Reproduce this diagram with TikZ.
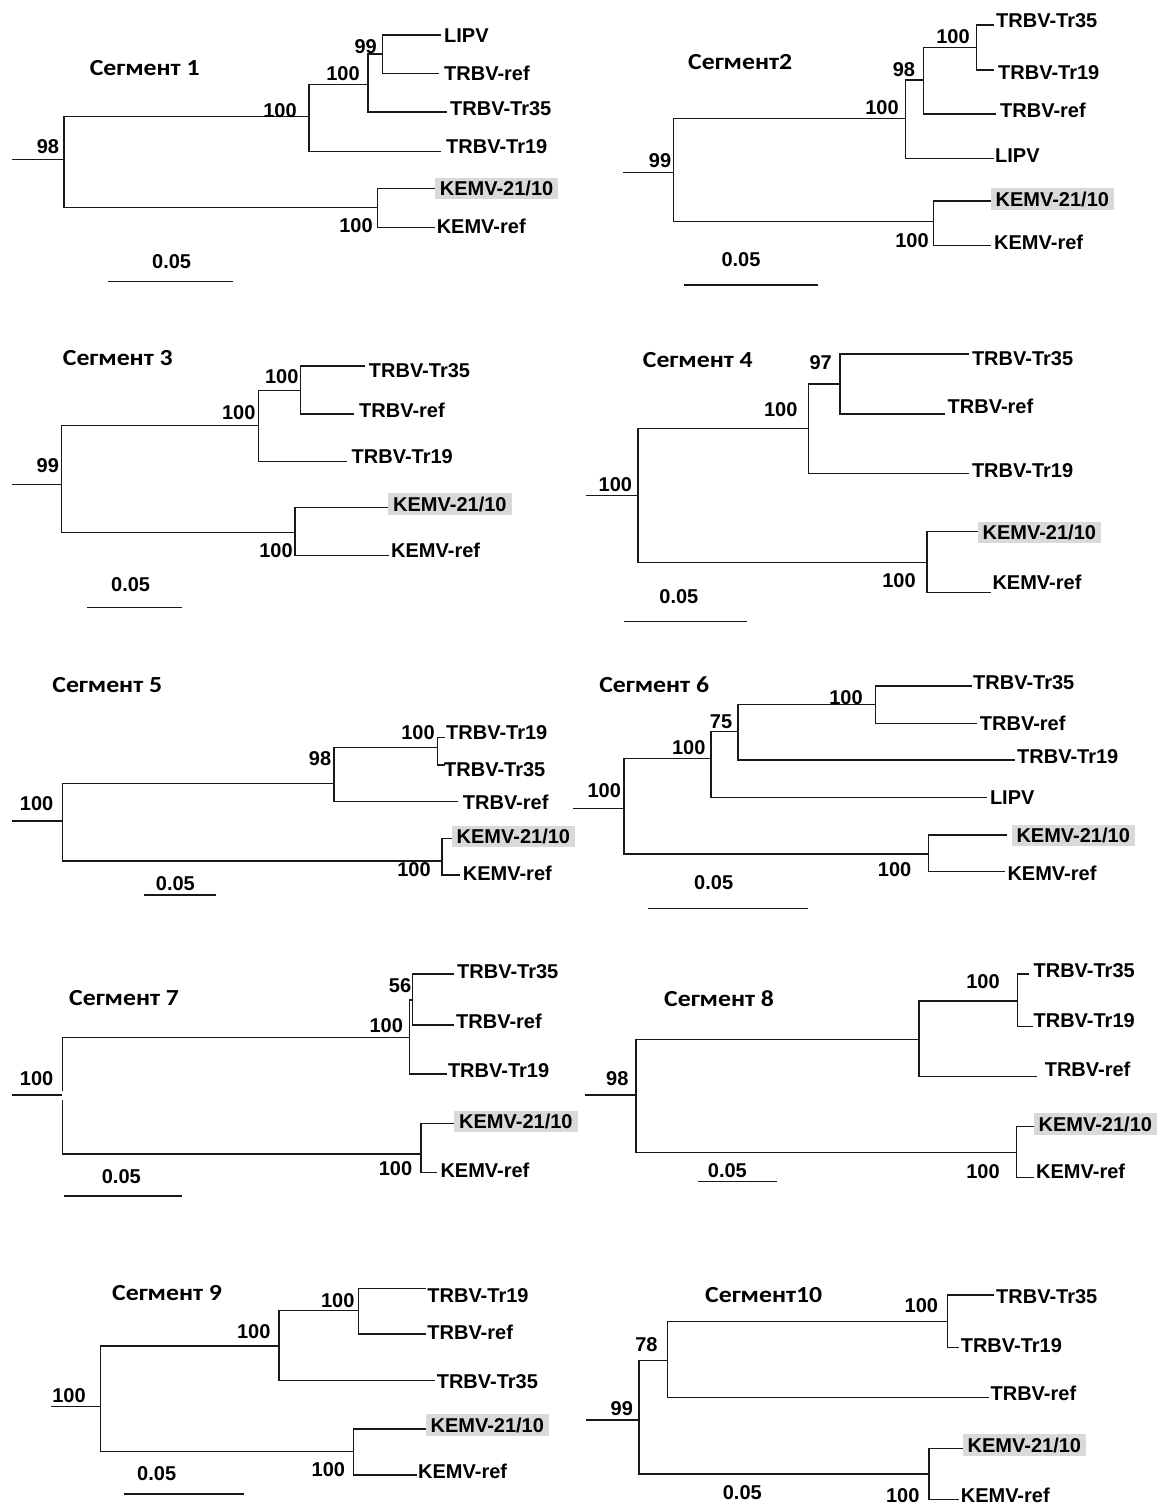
\documentclass[tikz,border=0pt]{standalone}
\usepackage{fontspec}
\setmainfont{Liberation Sans}
\newfontfamily\ttlfont[FakeStretch=1.12]{Carlito}
\newcommand\trH[3]{\draw[tree] (#1,#3) -- (#2,#3);}
\newcommand\trV[3]{\draw[tree] (#1,#2) -- (#1,#3);}
\begin{document}
\begin{tikzpicture}[x=1pt,y=-1pt,
  tree/.style={line width=1.4pt,black!90,line cap=rect},
  tip/.style={anchor=west,inner sep=0pt,font=\bfseries\fontsize{20}{22}\selectfont,text height=14.3pt,text depth=0pt},
  tiphl/.style={tip,fill=black!15,inner xsep=5pt,inner ysep=3.6pt},
  bs/.style={inner sep=0pt,font=\bfseries\fontsize{20}{22}\selectfont,text height=14.3pt,text depth=0pt},
  ttl/.style={anchor=west,inner sep=0pt,font=\ttlfont\bfseries\fontsize{23}{25}\selectfont}]
\useasboundingbox (0,0) rectangle (1167,1506);
\fill[white] (0,0) rectangle (1167,1506);

% ================= Segment 1
\node[ttl] (t1) at (89.6,68.3) {Сегмент 1};
\trH{13}{64}{159.3}
\trV{64}{116.7}{207.7}
\trH{64}{309}{116.7} \trH{64}{377.6}{207.7}
\trV{309}{84.3}{151.7} \trH{309}{368}{84.3} \trH{309}{440}{151.7}
\trV{368}{54}{112} \trH{368}{382.5}{54} \trH{368}{446}{112}
\trV{382.5}{35}{73.3} \trH{382.5}{440}{35} \trH{382.5}{438}{73.3}
\trV{377.6}{188.3}{227.3} \trH{377.6}{434.7}{188.3} \trH{377.6}{434.7}{227.3}
\node[tip] (s1a) at (444,35) {LIPV};
\node[tip] (s1b) at (444,73.3) {TRBV-ref};
\node[tip] (s1c) at (450,108.3) {TRBV-Tr35};
\node[tip] (s1d) at (446,146.7) {TRBV-Tr19};
\node[tiphl] (s1e) at (434.7,188.3) {KEMV-21/10};
\node[tip] (s1f) at (436.6,226.7) {KEMV-ref};
\node[bs] (s1n1) at (365.7,46.7) {99};
\node[bs] (s1n2) at (343,73) {100};
\node[bs] (s1n3) at (280,110) {100};
\node[bs] (s1n4) at (356,225) {100};
\node[bs] (s1n5) at (48,146) {98};
\trH{109}{232}{281.7}
\node[bs] (s1s) at (171.6,261.7) {0.05};

% ================= Segment 2
\node[ttl] (t2) at (688,61.7) {Сегмент2};
\trH{624}{673.3}{172.7}
\trV{673.3}{118.3}{221.7}
\trH{673.3}{905.7}{118.3} \trH{673.3}{933.4}{221.7}
\trV{905.7}{80}{158.3} \trH{905.7}{923.3}{80} \trH{905.7}{993.4}{158.3}
\trV{923.3}{47.7}{114} \trH{923.3}{976.3}{47.7} \trH{923.3}{995}{114}
\trV{976.3}{25}{70} \trH{976.3}{993.4}{25} \trH{976.3}{993.4}{70}
\trV{933.4}{201}{245.7} \trH{933.4}{990.4}{201} \trH{933.4}{990.4}{245.7}
\node[tip] (s2a) at (996,20.7) {TRBV-Tr35};
\node[tip] (s2b) at (998,72.7) {TRBV-Tr19};
\node[tip] (s2c) at (1000,110) {TRBV-ref};
\node[tip] (s2d) at (995,155) {LIPV};
\node[tiphl] (s2e) at (990.4,199) {KEMV-21/10};
\node[tip] (s2f) at (994,242.3) {KEMV-ref};
\node[bs] (s2n1) at (953,36.7) {100};
\node[bs] (s2n2) at (903.9,69.3) {98};
\node[bs] (s2n3) at (882,107.3) {100};
\node[bs] (s2n4) at (912,240.7) {100};
\node[bs] (s2n5) at (660,160.7) {99};
\trH{685}{817.3}{285}
\node[bs] (s2s) at (741,259.3) {0.05};

% ================= Segment 3
\node[ttl] (t3) at (62.7,358.3) {Сегмент 3};
\trH{12.3}{61.6}{484.3}
\trV{61.6}{425.7}{532.3}
\trH{61.6}{258.6}{425.7} \trH{61.6}{294.8}{532.3}
\trV{258.6}{390.7}{461.7} \trH{258.6}{300.4}{390.7} \trH{258.6}{346.3}{461.7}
\trV{300.4}{366}{414} \trH{300.4}{363.8}{366} \trH{300.4}{353.7}{414}
\trV{294.8}{507.7}{555.7} \trH{294.8}{388}{507.7} \trH{294.8}{388}{555.7}
\node[tip] (s3a) at (368.7,370) {TRBV-Tr35};
\node[tip] (s3b) at (359,410) {TRBV-ref};
\node[tip] (s3c) at (351.5,456.7) {TRBV-Tr19};
\node[tiphl] (s3d) at (388,504) {KEMV-21/10};
\node[tip] (s3e) at (391,550.7) {KEMV-ref};
\node[bs] (s3n1) at (281.7,376.7) {100};
\node[bs] (s3n2) at (238.8,412.7) {100};
\node[bs] (s3n3) at (276,550.7) {100};
\node[bs] (s3n4) at (47.8,465) {99};
\trH{87.7}{181.7}{607.7}
\node[bs] (s3s) at (130.6,584) {0.05};

% ================= Segment 4
\node[ttl] (t4) at (642.7,360) {Сегмент 4};
\trH{586.7}{637.8}{495.7}
\trV{637.8}{428.3}{562.3}
\trH{637.8}{808.4}{428.3} \trH{637.8}{927}{562.3}
\trV{808.4}{384}{473.3} \trH{808.4}{840}{384} \trH{808.4}{968}{473.3}
\trV{840}{354}{414} \trH{840}{968}{354} \trH{840}{943.8}{414}
\trV{927}{531.7}{592.3} \trH{927}{977.4}{531.7} \trH{927}{990.4}{592.3}
\node[tip] (s4a) at (971.8,358.3) {TRBV-Tr35};
\node[tip] (s4b) at (947.5,406) {TRBV-ref};
\node[tip] (s4c) at (971.8,470) {TRBV-Tr19};
\node[tiphl] (s4d) at (977.4,532.3) {KEMV-21/10};
\node[tip] (s4e) at (992.3,582.7) {KEMV-ref};
\node[bs] (s4n1) at (820.7,362.7) {97};
\node[bs] (s4n2) at (780.7,409.3) {100};
\node[bs] (s4n3) at (899,580.7) {100};
\node[bs] (s4n4) at (615.4,484) {100};
\trH{624.8}{746}{621.7}
\node[bs] (s4s) at (678.9,596.7) {0.05};

% ================= Segment 5
\node[ttl] (t5) at (52.2,685) {Сегмент 5};
\trH{12.3}{62.7}{821}
\trV{62.7}{783.3}{861}
\trH{62.7}{334}{783.3} \trH{62.7}{442}{861}
\trV{334}{747.3}{801.7} \trH{334}{437.3}{747.3} \trH{334}{457}{801.7}
\trV{437.3}{737.3}{765} \trH{437.3}{444}{737.3} \trH{437.3}{444}{765}
\trV{442}{838.3}{875} \trH{442}{451.5}{838.3} \trH{442}{459}{875}
\node[tip] (s5a) at (446,732.7) {TRBV-Tr19};
\node[tip] (s5b) at (444,769.3) {TRBV-Tr35};
\node[tip] (s5c) at (462.7,802.7) {TRBV-ref};
\node[tiphl] (s5d) at (451.5,836.7) {KEMV-21/10};
\node[tip] (s5e) at (462.7,873.3) {KEMV-ref};
\node[bs] (s5n1) at (320,758.3) {98};
\node[bs] (s5n2) at (418,732.7) {100};
\node[bs] (s5n3) at (414,869.3) {100};
\node[bs] (s5n4) at (36.6,803.3) {100};
\trH{144.8}{215.3}{895}
\node[bs] (s5s) at (175.4,883.3) {0.05};

% ================= Segment 6
\node[ttl] (t6) at (599.1,685) {Сегмент 6};
\trH{573.7}{624.1}{808.3}
\trV{624.1}{758.3}{854}
\trH{624.1}{711}{758.3} \trH{624.1}{928.2}{854}
\trV{711}{731.7}{797.7} \trH{711}{737.9}{731.7} \trH{711}{986}{797.7}
\trV{737.9}{704.3}{760} \trH{737.9}{875.2}{704.3} \trH{737.9}{1014}{760}
\trV{875.2}{686}{723.3} \trH{875.2}{971.1}{686} \trH{875.2}{976.7}{723.3}
\trV{928.2}{835}{871.7} \trH{928.2}{1006.6}{835} \trH{928.2}{1004.7}{871.7}
\node[tip] (s6a) at (973,682.7) {TRBV-Tr35};
\node[tip] (s6b) at (979.7,723.3) {TRBV-ref};
\node[tip] (s6c) at (1017,756.7) {TRBV-Tr19};
\node[tip] (s6d) at (989.8,797.7) {LIPV};
\node[tiphl] (s6e) at (1011.3,835.7) {KEMV-21/10};
\node[tip] (s6f) at (1007.3,873.3) {KEMV-ref};
\node[bs] (s6n1) at (846,697.3) {100};
\node[bs] (s6n2) at (721.1,721.7) {75};
\node[bs] (s6n3) at (688.7,747.3) {100};
\node[bs] (s6n4) at (894.6,869.3) {100};
\node[bs] (s6n5) at (604.3,790.7) {100};
\trH{648.4}{807}{908.3}
\node[bs] (s6s) at (713.7,882.7) {0.05};

% ================= Segment 7
\node[ttl] (t7) at (69,998.3) {Сегмент 7};
\trH{12.3}{61.6}{1095}
\trV{62.7}{1037.7}{1090} \trV{62.7}{1101}{1154}
\trH{62.7}{409.7}{1037.7} \trH{62.7}{420.9}{1154}
\trV{409.7}{1000}{1074} \trH{409.7}{412.3}{1000} \trH{409.7}{446}{1074}
\trV{412.3}{974}{1025} \trH{412.3}{453.4}{974} \trH{412.3}{453.4}{1025}
\trV{420.9}{1123.3}{1172.7} \trH{420.9}{453.4}{1123.3} \trH{420.9}{436.6}{1172.7}
\node[tip] (s7a) at (457,971.7) {TRBV-Tr35};
\node[tip] (s7b) at (456,1021.7) {TRBV-ref};
\node[tip] (s7c) at (447.8,1070.7) {TRBV-Tr19};
\node[tiphl] (s7d) at (454,1121.7) {KEMV-21/10};
\node[tip] (s7e) at (440.3,1170) {KEMV-ref};
\node[bs] (s7n1) at (400,985) {56};
\node[bs] (s7n2) at (386.2,1025) {100};
\node[bs] (s7n3) at (395.5,1168.3) {100};
\node[bs] (s7n4) at (36.6,1078.3) {100};
\trH{64.2}{181.7}{1196}
\node[bs] (s7s) at (121.3,1176) {0.05};

% ================= Segment 8
\node[ttl] (t8) at (664,998.3) {Сегмент 8};
\trH{585.6}{636}{1095}
\trV{636}{1039.3}{1152.7}
\trH{636}{918.8}{1039.3} \trH{636}{1016.6}{1152.7}
\trV{918.8}{1001}{1076.7} \trH{918.8}{1017.3}{1001} \trH{918.8}{1036}{1076.7}
\trV{1017.3}{974}{1026.7} \trH{1017.3}{1027.8}{974} \trH{1017.3}{1032.2}{1026.7}
\trV{1016.6}{1126.7}{1177.7} \trH{1016.6}{1033.4}{1126.7} \trH{1016.6}{1033.4}{1177.7}
\node[tip] (s8a) at (1033.4,970) {TRBV-Tr35};
\node[tip] (s8b) at (1033.4,1020) {TRBV-Tr19};
\node[tip] (s8c) at (1044.6,1069.3) {TRBV-ref};
\node[tiphl] (s8d) at (1033.4,1124) {KEMV-21/10};
\node[tip] (s8e) at (1036,1171.7) {KEMV-ref};
\node[bs] (s8n1) at (983,981.7) {100};
\node[bs] (s8n2) at (983,1171.7) {100};
\node[bs] (s8n3) at (617.3,1078.3) {98};
\trH{698.7}{775.9}{1181.7}
\node[bs] (s8s) at (727.4,1170) {0.05};

% ================= Segment 9
\node[ttl] (t9) at (112,1293.3) {Сегмент 9};
\trH{51.5}{100.7}{1406.7}
\trV{100.7}{1346}{1451.7}
\trH{100.7}{279.1}{1346} \trH{100.7}{353.7}{1451.7}
\trV{279.1}{1310.7}{1380.7} \trH{279.1}{358.2}{1310.7} \trH{279.1}{434.7}{1380.7}
\trV{358.2}{1288.3}{1334} \trH{358.2}{425.4}{1288.3} \trH{358.2}{425.4}{1334}
\trV{353.7}{1429}{1475} \trH{353.7}{425.4}{1429} \trH{353.7}{416}{1475}
\node[tip] (s9a) at (427.2,1295) {TRBV-Tr19};
\node[tip] (s9b) at (427.2,1332.7) {TRBV-ref};
\node[tip] (s9c) at (436.6,1381.7) {TRBV-Tr35};
\node[tiphl] (s9d) at (425.4,1425) {KEMV-21/10};
\node[tip] (s9e) at (418,1471.7) {KEMV-ref};
\node[bs] (s9n1) at (337.7,1300) {100};
\node[bs] (s9n2) at (253.7,1331.7) {100};
\node[bs] (s9n3) at (328.4,1469.3) {100};
\node[bs] (s9n4) at (69,1395) {100};
\trH{125}{243.3}{1494}
\node[bs] (s9s) at (156.7,1473.3) {0.05};

% ================= Segment 10
\node[ttl] (t10) at (705,1295) {Сегмент10};
\trH{586.7}{639}{1420}
\trV{639}{1360.7}{1474}
\trH{639}{667.7}{1360.7} \trH{639}{928.9}{1474}
\trV{667.7}{1321.7}{1397.3} \trH{667.7}{947.5}{1321.7} \trH{667.7}{988.6}{1397.3}
\trV{947.5}{1295}{1347.3} \trH{947.5}{993.4}{1295} \trH{947.5}{958.7}{1347.3}
\trV{928.9}{1448.3}{1499.3} \trH{928.9}{962.5}{1448.3} \trH{928.9}{958.7}{1499.3}
\node[tip] (s10a) at (996,1296) {TRBV-Tr35};
\node[tip] (s10b) at (960.6,1345) {TRBV-Tr19};
\node[tip] (s10c) at (990.4,1393.3) {TRBV-ref};
\node[tiphl] (s10d) at (962.5,1445) {KEMV-21/10};
\node[tip] (s10e) at (960.6,1495) {KEMV-ref};
\node[bs] (s10n1) at (921.4,1305) {100};
\node[bs] (s10n2) at (646.4,1344) {78};
\node[bs] (s10n3) at (902.8,1495) {100};
\node[bs] (s10n4) at (621.8,1408.3) {99};
\node[bs] (s10s) at (742.3,1492.7) {0.05};
\end{tikzpicture}
\end{document}
